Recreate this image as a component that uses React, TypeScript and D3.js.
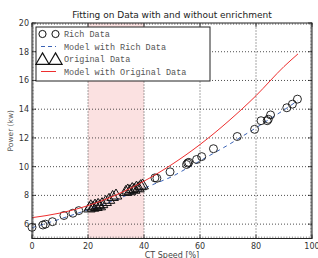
import React from "react";
import * as d3 from "d3";

// rich data (circles)
const richX = [0, 3.9, 4.8, 7.3, 11.4, 14.6, 16.7, 43.9, 44.6, 49.3, 55.2, 55.6, 56.0, 58.8, 60.6, 64.8, 73.3, 79.5, 81.8, 84.0, 84.4, 85.2, 91.0, 93.0, 94.8];
const richY = [5.78, 5.94, 6.0, 6.17, 6.6, 6.76, 6.94, 9.22, 9.19, 9.64, 10.15, 10.25, 10.3, 10.5, 10.7, 11.25, 12.1, 12.6, 13.2, 13.2, 13.3, 13.6, 14.1, 14.35, 14.7];

// original data (triangles)
const origX = [20.5, 21, 21.8, 22.5, 23, 23.6, 24.2, 25, 26.3, 27.5, 28.8, 30, 33.5, 34.2, 35, 35.8, 36.5, 37.3, 38, 38.8, 39.5];
const origY = [7.15, 7.3, 7.2, 7.35, 7.25, 7.4, 7.3, 7.45, 7.6, 7.75, 7.95, 8.05, 8.3, 8.4, 8.35, 8.5, 8.45, 8.6, 8.55, 8.7, 8.75];

// model curves
const modelX = [0, 10, 20, 30, 40, 50, 60, 70, 80, 90, 95];
const richModelY = [5.75, 6.35, 7.0, 7.7, 8.5, 9.3, 10.4, 11.5, 12.7, 13.95, 14.6];
const origModelY = [6.45, 6.77, 7.29, 8.03, 8.99, 10.16, 11.54, 13.14, 14.94, 16.97, 17.85];

const xTicks = [0, 20, 40, 60, 80, 100];
const yTicks = [6, 8, 10, 12, 14, 16, 18, 20];
const legendLabels = ["Rich Data", "Model with Rich Data", "Original Data", "Model with Original Data"];

const App = () => {
  const svgRef = React.useRef(null);
  const width = 318;
  const height = 258;
  const margin = { top: 23, right: 6, bottom: 19.5, left: 32 };

  React.useEffect(() => {
    const svgEl = d3.select(svgRef.current);
    svgEl.selectAll("*").remove();

    const x = d3.scaleLinear().domain([0, 100]).range([margin.left, width - margin.right]);
    const y = d3.scaleLinear().domain([5, 20]).range([height - margin.bottom, margin.top]);
    const [x0, x1] = x.range();
    const [y0, y1] = y.range();

    // enrichment band
    svgEl.append("rect")
      .attr("x", x(20)).attr("y", y1)
      .attr("width", x(40) - x(20)).attr("height", y0 - y1)
      .attr("fill", "#fbe1e1");

    // grid
    const grid = svgEl.append("g").attr("stroke", "#222").attr("stroke-width", 0.8).attr("stroke-dasharray", "1,2");
    xTicks.slice(1, -1).forEach((t) => {
      grid.append("line").attr("x1", x(t)).attr("x2", x(t)).attr("y1", y0).attr("y2", y1);
    });
    yTicks.slice(0, -1).forEach((t) => {
      grid.append("line").attr("x1", x0).attr("x2", x1).attr("y1", y(t)).attr("y2", y(t));
    });

    const line = d3.line<number>().x((d, i) => x(modelX[i])).y((d) => y(d));

    // rich model (dashed blue)
    svgEl.append("path").datum(richModelY)
      .attr("fill", "none").attr("stroke", "#3a62b5").attr("stroke-width", 1)
      .attr("stroke-dasharray", "4,4").attr("d", line);

    // rich data circles
    svgEl.append("g").selectAll("circle").data(richX).join("circle")
      .attr("cx", (d) => x(d)).attr("cy", (d, i) => y(richY[i])).attr("r", 4)
      .attr("fill", "none").attr("stroke", "#111").attr("stroke-width", 0.9);

    // original data triangles
    const tri = d3.symbol().type(d3.symbolTriangle).size(58);
    svgEl.append("g").selectAll("path").data(origX).join("path")
      .attr("transform", (d, i) => `translate(${x(d)},${y(origY[i]) + 1})`)
      .attr("d", tri)
      .attr("fill", "none").attr("stroke", "#111").attr("stroke-width", 1);

    // original model (red)
    svgEl.append("path").datum(origModelY)
      .attr("fill", "none").attr("stroke", "#ee2e2e").attr("stroke-width", 1)
      .attr("d", line.curve(d3.curveMonotoneX));

    // minor ticks
    const minor = svgEl.append("g").attr("stroke", "#555").attr("stroke-width", 0.6);
    d3.range(0, 101, 1).forEach((t) => {
      minor.append("line").attr("x1", x(t)).attr("x2", x(t)).attr("y1", y0).attr("y2", y0 - 2);
      minor.append("line").attr("x1", x(t)).attr("x2", x(t)).attr("y1", y1).attr("y2", y1 + 2);
    });
    d3.range(5, 20.01, 0.1).forEach((t) => {
      minor.append("line").attr("x1", x0).attr("x2", x0 + 2).attr("y1", y(t)).attr("y2", y(t));
      minor.append("line").attr("x1", x1).attr("x2", x1 - 2).attr("y1", y(t)).attr("y2", y(t));
    });

    // major ticks
    const major = svgEl.append("g").attr("stroke", "#222").attr("stroke-width", 0.8);
    xTicks.forEach((t) => {
      major.append("line").attr("x1", x(t)).attr("x2", x(t)).attr("y1", y0).attr("y2", y0 - 4);
      major.append("line").attr("x1", x(t)).attr("x2", x(t)).attr("y1", y1).attr("y2", y1 + 4);
    });
    yTicks.forEach((t) => {
      major.append("line").attr("x1", x0).attr("x2", x0 + 4).attr("y1", y(t)).attr("y2", y(t));
      major.append("line").attr("x1", x1).attr("x2", x1 - 4).attr("y1", y(t)).attr("y2", y(t));
    });

    // frame
    svgEl.append("rect")
      .attr("x", x0).attr("y", y1).attr("width", x1 - x0).attr("height", y0 - y1)
      .attr("fill", "none").attr("stroke", "#222").attr("stroke-width", 1);

    // tick labels
    const labels = svgEl.append("g").attr("font-family", "DejaVu Sans").attr("font-size", 8).attr("fill", "#333");
    xTicks.forEach((t) => {
      labels.append("text").attr("x", x(t)).attr("y", y0 + 10).attr("text-anchor", "middle").text(t);
    });
    yTicks.forEach((t) => {
      labels.append("text").attr("x", x0 - 3).attr("y", y(t) + 3).attr("text-anchor", "end").text(t);
    });

    // title and axis labels
    svgEl.append("text")
      .attr("x", (x0 + x1) / 2).attr("y", 18).attr("text-anchor", "middle")
      .attr("font-family", "DejaVu Sans").attr("font-size", 9).attr("fill", "#222")
      .text("Fitting on Data with and without enrichment");
    svgEl.append("text")
      .attr("x", (x0 + x1) / 2).attr("y", 258).attr("text-anchor", "middle")
      .attr("font-family", "DejaVu Sans").attr("font-size", 8).attr("fill", "#444")
      .text("CT Speed [%]");
    svgEl.append("text")
      .attr("transform", `translate(13,${(y0 + y1) / 2}) rotate(-90)`).attr("text-anchor", "middle")
      .attr("font-family", "DejaVu Sans").attr("font-size", 7.5).attr("fill", "#555")
      .text("Power (kw)");

    // legend
    const lg = svgEl.append("g");
    lg.append("rect").attr("x", 36).attr("y", 27).attr("width", 174).attr("height", 54)
      .attr("fill", "white").attr("stroke", "#222").attr("stroke-width", 1);
    const rowY = (i: number) => 34 + i * 12.5;
    [42.5, 55.5].forEach((cx) => {
      lg.append("circle").attr("cx", cx).attr("cy", rowY(0)).attr("r", 3.6)
        .attr("fill", "none").attr("stroke", "#111").attr("stroke-width", 1);
      lg.append("path").attr("transform", `translate(${cx},${rowY(2) + 1.5})`)
        .attr("d", d3.symbol().type(d3.symbolTriangle).size(75)())
        .attr("fill", "none").attr("stroke", "#111").attr("stroke-width", 1.2);
    });
    lg.append("line").attr("x1", 41).attr("x2", 56).attr("y1", rowY(1)).attr("y2", rowY(1))
      .attr("stroke", "#3a62b5").attr("stroke-dasharray", "4,3");
    lg.append("line").attr("x1", 41).attr("x2", 56).attr("y1", rowY(3)).attr("y2", rowY(3))
      .attr("stroke", "#ee2e2e");
    legendLabels.forEach((t, i) => {
      lg.append("text").attr("x", 64).attr("y", rowY(i) + 3)
        .attr("font-family", "Liberation Mono").attr("font-size", 8.5).attr("fill", "#555")
        .text(t);
    });
  }, []);

  return (
    <svg ref={svgRef} width={width} height={height}
      style={{ position: "absolute", left: 0, top: 0, background: "white" }} />
  );
};

export default App;
